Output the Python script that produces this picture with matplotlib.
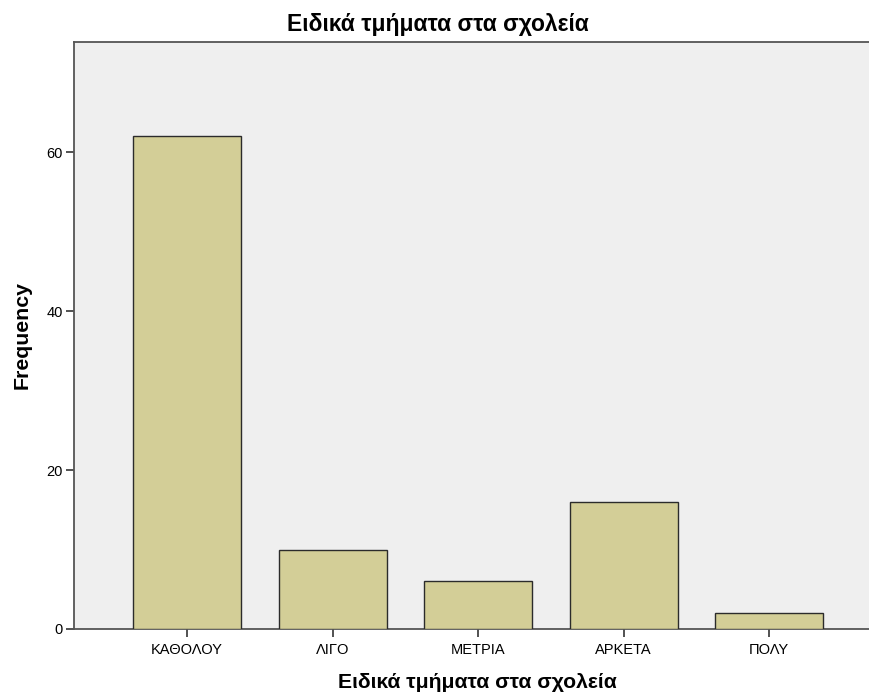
import matplotlib
matplotlib.use("Agg")
import matplotlib.pyplot as plt

categories = ["ΚΑΘΟΛΟΥ", "ΛΙΓΟ", "ΜΕΤΡΙΑ", "ΑΡΚΕΤΑ", "ΠΟΛΥ"]
frequencies = [62, 10, 6, 16, 2]
yticks = [0, 20, 40, 60]
title = "Ειδικά τμήματα στα σχολεία"
xlabel = "Ειδικά τμήματα στα σχολεία"
ylabel = "Frequency"

plt.rcParams['font.family'] = ['Liberation Sans', 'DejaVu Sans']

W, H = 869, 695
fig = plt.figure(figsize=(W/100, H/100), dpi=100)
left, right, top, bottom = 74, 869, 42, 629
ax = fig.add_axes([left/W, (H-bottom)/H, (right-left)/W, (bottom-top)/H])
ax.set_facecolor('#EFEFEF')

x = list(range(len(categories)))
ax.bar(x, frequencies, width=0.742, color='#D3CE97', edgecolor='#2b2b2b', linewidth=1.0, zorder=3)

ax.set_xlim(-0.777, 4.687)
ax.set_ylim(0, 73.84)
ax.set_xticks(x)
ax.set_xticklabels(categories, fontsize=10.5)
ax.set_yticks(yticks)
ax.tick_params(axis='y', labelsize=10.5, length=6, width=1.2, color='#333333', pad=2)
ax.tick_params(axis='x', length=6, width=1.2, color='#333333', pad=4)

for s in ['top', 'left', 'bottom']:
    ax.spines[s].set_color('#555555')
    ax.spines[s].set_linewidth(1.3)
ax.spines['right'].set_visible(False)

fig.text(477/W, 1 - 683/H, xlabel, ha='center', va='center', fontsize=15.2, fontweight='bold')
fig.text(22/W, 1 - 335/H, ylabel, ha='center', va='center', rotation=90, fontsize=15.3, fontweight='bold')
fig.text(438/W, 1 - 24/H, title, ha='center', va='center', fontsize=16.5, fontweight='bold')

fig.savefig('out.png', dpi=100, facecolor='white')
